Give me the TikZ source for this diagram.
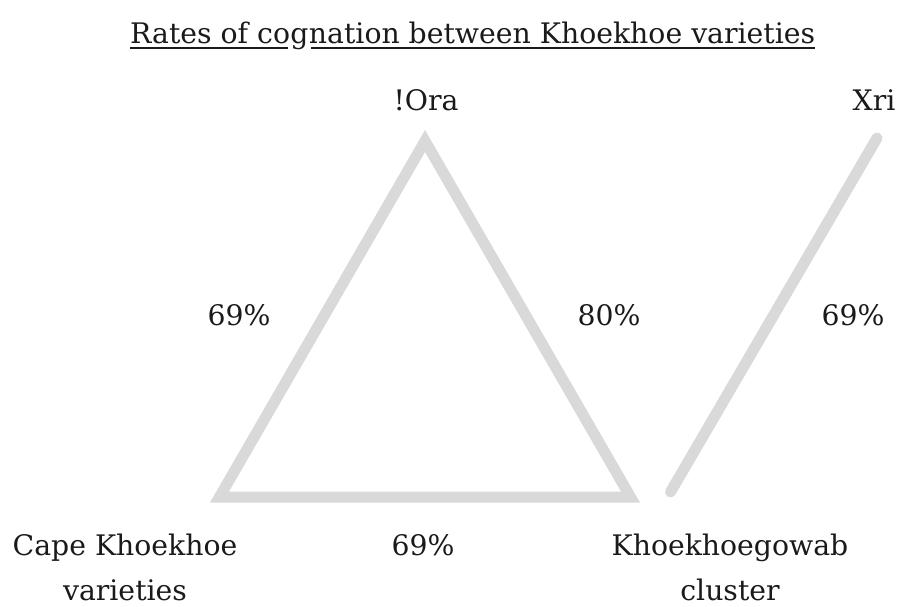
\documentclass[tikz,border=0pt]{standalone}
\usepackage{fontspec}
\setmainfont{DejaVu Serif}
\definecolor{edgegray}{HTML}{D9D9D9}
\definecolor{ink}{HTML}{1A1A1A}
\begin{document}
\begin{tikzpicture}[x=1pt,y=-1pt,
  lbl/.style={inner sep=0pt, text=ink, font=\fontsize{28.3}{45}\selectfont},
  titlepart/.style={lbl, anchor=base west},
  edge/.style={draw=edgegray, line width=11pt, line join=miter}]
  \useasboundingbox (0,0) rectangle (911,606);

  % title, split around the descender of the g so the rule can skip it
  \node[titlepart] (t1) at (130,43) {Rates of co};
  \node[titlepart] (t2) at (t1.base east) {g};
  \node[titlepart] (t3) at (t2.base east) {nation between Khoekhoe varieties};
  \coordinate (u0) at ([yshift=-5pt]t1.base west);
  \coordinate (u1) at ([xshift=-2pt,yshift=-5pt]t2.base west);
  \coordinate (u2) at ([xshift=2pt,yshift=-5pt]t3.base west);
  \coordinate (u3) at ([yshift=-5pt]t3.base east);
  \draw[ink, line width=2pt] (u0) -- (u1) (u2) -- (u3);

  % vertices of the cognation triangle and the Xri link
  \coordinate (ora) at (425,141);
  \coordinate (cape) at (219.5,497);
  \coordinate (khk) at (630.5,497);
  \coordinate (xri) at (877,138);
  \coordinate (xrifoot) at (670.5,492);

  \draw[edge] (ora) -- (khk) -- (cape) -- cycle;
  \draw[edge, line cap=round] (xrifoot) -- (xri);

  % variety names (base anchor of a two-line node is its last line)
  \node[lbl, anchor=base] (oraname) at (426,110) {!Ora};
  \node[lbl, anchor=base] (xriname) at (874,110) {Xri};
  \node[lbl, anchor=base, align=center] (capename) at (125,600)
    {Cape Khoekhoe\\varieties};
  \node[lbl, anchor=base, align=center] (khkname) at (730,600)
    {Khoekhoegowab\\cluster};

  % rates
  \node[lbl, anchor=base] (rcapeora) at (239,325) {69\%};
  \node[lbl, anchor=base] (roraxkh) at (609,325) {80\%};
  \node[lbl, anchor=base] (rxri) at (853,325) {69\%};
  \node[lbl, anchor=base] (rcapekhk) at (423,555) {69\%};
\end{tikzpicture}
\end{document}
